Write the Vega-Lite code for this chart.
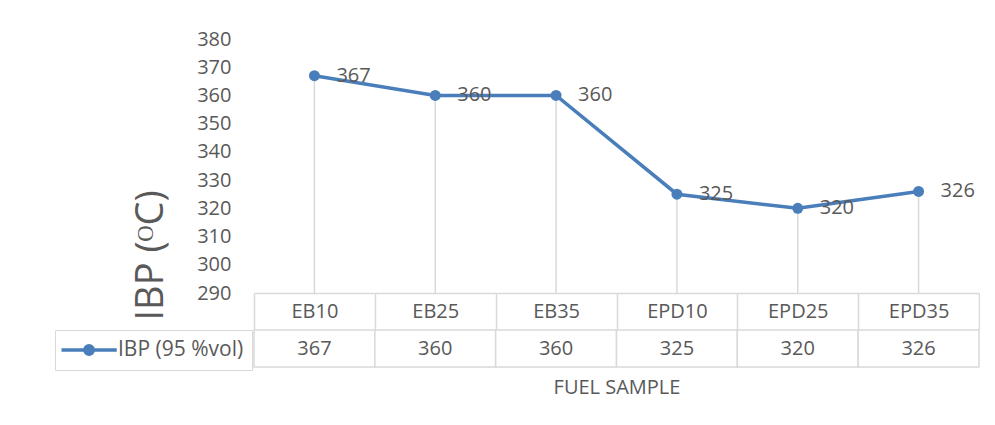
{
  "$schema": "https://vega.github.io/schema/vega-lite/v6.json",
  "autosize": {"type": "pad"},
  "padding": {"left": 54, "top": 29, "right": 0, "bottom": 30},
  "background": "white",
  "config": {"font": "Open Sans", "view": {"stroke": null}},
  "data": {
    "values": [
      {"sample": "EB10", "value": 367, "series": "IBP (95 %vol)"},
      {"sample": "EB25", "value": 360, "series": "IBP (95 %vol)"},
      {"sample": "EB35", "value": 360, "series": "IBP (95 %vol)"},
      {"sample": "EPD10", "value": 325, "series": "IBP (95 %vol)"},
      {"sample": "EPD25", "value": 320, "series": "IBP (95 %vol)"},
      {"sample": "EPD35", "value": 326, "series": "IBP (95 %vol)"}
    ]
  },
  "bounds": "flush",
  "spacing": 37,
  "resolve": {"legend": {"color": "independent"}},
  "vconcat": [
    {
      "width": 725,
      "height": 254,
      "layer": [
        {
          "data": {"values": [{}]},
          "mark": {
            "type": "rect",
            "color": {
              "gradient": "linear", "x1": 0, "y1": 0, "x2": 0, "y2": 1,
              "stops": [{"offset": 0, "color": "#fdfdfd"}, {"offset": 1, "color": "#efefef"}]
            }
          },
          "encoding": {
            "y": {"datum": 370, "type": "quantitative"},
            "y2": {"datum": 290}
          }
        },
        {
          "mark": {"type": "rule", "color": "#d9d9d9", "strokeWidth": 1.5},
          "encoding": {
            "x": {"field": "sample", "type": "nominal", "sort": null},
            "y": {"field": "value", "type": "quantitative"},
            "y2": {"datum": 290}
          }
        },
        {
          "mark": {"type": "line", "color": "#4A7EBB", "strokeWidth": 3.5},
          "encoding": {
            "x": {"field": "sample", "type": "nominal", "sort": null},
            "y": {"field": "value", "type": "quantitative"}
          }
        },
        {
          "mark": {"type": "point", "filled": true, "size": 120, "opacity": 1},
          "encoding": {
            "x": {"field": "sample", "type": "nominal", "sort": null},
            "y": {"field": "value", "type": "quantitative"},
            "color": {
              "field": "series", "type": "nominal",
              "scale": {"range": ["#4A7EBB"]},
              "legend": {
                "title": null,
                "orient": "none",
                "legendX": -199,
                "legendY": 291,
                "padding": 8,
                "strokeColor": "#d9d9d9",
                "labelFontSize": 21,
                "labelColor": "#595959",
                "labelOffset": 31,
                "symbolType": "M-1.35,0L4.175,0M1.825,0A0.42,0.42,0,1,1,0.985,0A0.42,0.42,0,1,1,1.825,0Z",
                "symbolSize": 400,
                "symbolStrokeWidth": 3.5,
                "symbolStrokeColor": "#4A7EBB",
                "symbolFillColor": "#4A7EBB",
                "encode": {
                  "symbols": {
                    "update": {
                      "stroke": {"value": "#4A7EBB"},
                      "strokeWidth": {"value": 3.5},
                      "fill": {"value": "#4A7EBB"},
                      "opacity": {"value": 1}
                    }
                  }
                }
              }
            }
          }
        },
        {
          "mark": {"type": "text", "align": "left", "baseline": "middle", "dx": 22, "fontSize": 20, "color": "#595959"},
          "encoding": {
            "x": {"field": "sample", "type": "nominal", "sort": null},
            "y": {"field": "value", "type": "quantitative"},
            "text": {"field": "value", "type": "quantitative"}
          }
        }
      ],
      "encoding": {
        "x": {
          "field": "sample", "type": "nominal", "sort": null,
          "scale": {"type": "band", "paddingInner": 0, "paddingOuter": 0},
          "axis": {
            "title": null,
            "labelAngle": 0,
            "labelFontSize": 20,
            "labelColor": "#595959",
            "labelBaseline": "middle",
            "labelPadding": -18.5,
            "tickBand": "extent",
            "tickSize": 37,
            "tickColor": "#d9d9d9",
            "tickWidth": 1.5,
            "domainColor": "#d9d9d9",
            "domainWidth": 1.5,
            "grid": false
          }
        },
        "y": {
          "field": "value", "type": "quantitative",
          "scale": {"domain": [290, 380], "zero": false, "nice": false},
          "axis": {
            "title": "IBP (ᴼC)",
            "values": [290, 300, 310, 320, 330, 340, 350, 360, 370, 380],
            "domain": false,
            "ticks": false,
            "tickSize": 0,
            "grid": false,
            "labelFontSize": 20,
            "labelColor": "#595959",
            "labelPadding": 23,
            "titleFontSize": 38,
            "titleFontWeight": "normal",
            "titleColor": "#595959",
            "titleAngle": -90,
            "titleX": -92,
            "titleY": 281,
            "titleAlign": "left",
            "titleBaseline": "alphabetic"
          }
        }
      }
    },
    {
      "width": 725,
      "height": 37,
      "layer": [
        {
          "mark": {"type": "rect", "fill": "white", "stroke": "#d9d9d9", "strokeWidth": 1.5},
          "encoding": {
            "x": {
              "field": "sample", "type": "nominal", "sort": null,
              "scale": {"type": "band", "paddingInner": 0, "paddingOuter": 0},
              "axis": {
                "title": "FUEL SAMPLE",
                "labels": false,
                "ticks": false,
                "domain": false,
                "grid": false,
                "titleFontSize": 20,
                "titleFontWeight": "normal",
                "titleColor": "#595959",
                "titlePadding": 20,
                "titleBaseline": "middle"
              }
            }
          }
        },
        {
          "mark": {"type": "text", "fontSize": 20, "color": "#595959", "baseline": "middle"},
          "encoding": {
            "x": {"field": "sample", "type": "nominal", "sort": null},
            "text": {"field": "value", "type": "quantitative"}
          }
        }
      ]
    }
  ]
}
